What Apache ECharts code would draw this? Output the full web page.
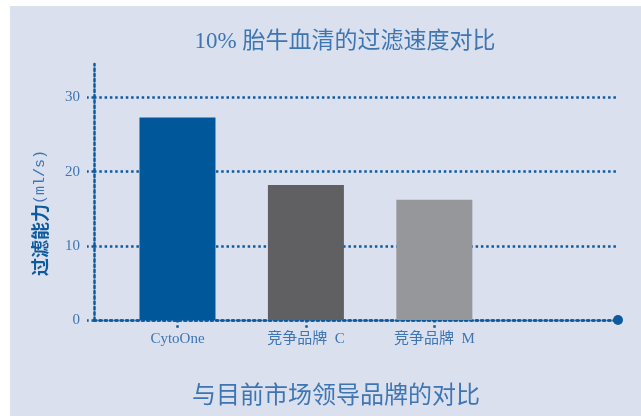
<!DOCTYPE html>
<html>
<head>
<meta charset="utf-8">
<script src="https://cdn.jsdelivr.net/npm/echarts@6/dist/echarts.min.js"></script>
<style>
  html, body { margin: 0; padding: 0; background: #fff; }
  #chart { width: 641px; height: 416px; }
</style>
</head>
<body>
<div id="chart"></div>
<script>
const categories = ['CytoOne', '竞争品牌  C', '竞争品牌  M']
const values = [27.3, 18.2, 16.2]
const barColors = ['#00589b', '#606062', '#96979b']
const yTicks = [0, 10, 20, 30]

const axisBlue = '#0d5a9e'
const textBlue = '#3d76b2'
const dots = { color: axisBlue, width: 2.5, type: [2.5, 2.8] }
const latin = '"Liberation Serif", "Noto Sans CJK SC", serif'

const chart = echarts.init(document.getElementById('chart'))

chart.setOption({
    backgroundColor: '#fff',
    animation: false,
    graphic: [{
        type: 'rect',
        z: -10,
        shape: { x: 10, y: 6, width: 631, height: 410 },
        style: { fill: '#dbe0ee' }
    }],
    title: [{
        text: '10% 胎牛血清的过滤速度对比',
        left: 340,
        textAlign: 'center',
        top: 25,
        textStyle: { color: textBlue, fontSize: 23, fontWeight: 'normal', fontFamily: latin }
    }, {
        text: '与目前市场领导品牌的对比',
        left: 331,
        textAlign: 'center',
        top: 377,
        textStyle: { color: textBlue, fontSize: 24, fontWeight: 'normal', fontFamily: '"Noto Sans CJK SC", sans-serif' }
    }],
    grid: { left: 94, right: 23, top: 64, bottom: 96 },
    xAxis: {
        type: 'value',
        min: -0.65,
        max: 3.43,
        splitLine: { show: false },
        axisLine: {
            show: true,
            onZero: false,
            lineStyle: dots,
            symbol: ['none', 'circle'],
            symbolSize: [10, 10]
        },
        axisTick: { show: true, length: 9, customValues: [0, 1, 2], lineStyle: dots },
        axisLabel: {
            customValues: [0, 1, 2],
            formatter: v => categories[Math.round(v)] || '',
            color: textBlue,
            fontSize: 15,
            margin: 12,
            fontFamily: latin
        }
    },
    yAxis: {
        type: 'value',
        min: 0,
        max: 34.5,
        interval: 10,
        name: '{b|过滤能力}{u|(ml/s)}',
        nameLocation: 'middle',
        nameGap: 45,
        nameTextStyle: {
            padding: [0, 42, 0, 0],
            rich: {
                b: { color: axisBlue, fontSize: 18, fontWeight: 'bold', fontFamily: '"Noto Sans CJK SC", sans-serif' },
                u: { color: textBlue, fontSize: 15, fontFamily: '"Liberation Mono", monospace' }
            }
        },
        axisLine: { show: true, onZero: false, lineStyle: dots },
        axisTick: { show: true, length: 7, customValues: yTicks, lineStyle: dots },
        splitLine: { show: true, showMinLine: true, showMaxLine: true, lineStyle: dots },
        axisLabel: {
            customValues: yTicks,
            color: textBlue,
            fontSize: 15,
            margin: 14,
            fontFamily: latin
        }
    },
    series: [{
        type: 'bar',
        barWidth: 76,
        z: 1,
        data: values.map((v, i) => ({
            value: [i, v],
            itemStyle: { color: barColors[i] }
        }))
    }]
})
</script>
</body>
</html>
